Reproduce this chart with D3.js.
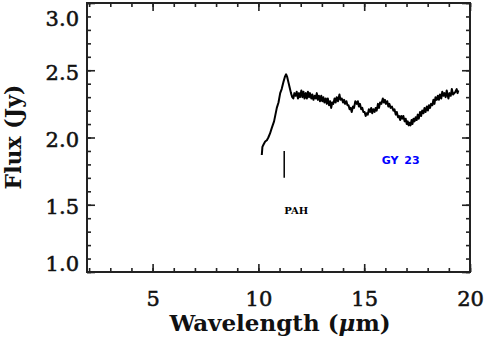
<!DOCTYPE html>
<html>
<head>
<meta charset="utf-8">
<script src="https://cdn.jsdelivr.net/npm/d3@7"></script>
<style>
  body { margin: 0; background: #fff; }
  svg { display: block; }
  .axis path, .axis line { stroke: #222; }
  .axis text { font-family: "DejaVu Serif", serif; fill: #111; stroke: #111; stroke-width: 0.55; }
</style>
</head>
<body>
<svg id="chart" width="484" height="342"></svg>
<script>
// spectrum
const wavelength = [10.16,10.19,10.25,10.32,10.40,10.47,10.55,10.63,10.74,10.87,10.95,11.03,11.10,11.18,11.25,11.31,11.36,11.42,11.48,11.54,
  11.60,11.65,11.70,11.76,11.81,11.87,11.92,11.97,12.03,12.08,12.13,12.18,12.24,12.29,12.34,12.39,12.44,12.50,12.55,12.60,
  12.66,12.71,12.76,12.81,12.86,12.91,12.97,13.02,13.07,13.12,13.18,13.23,13.28,13.34,13.39,13.44,13.49,13.54,13.60,13.65,
  13.70,13.76,13.83,13.88,13.94,14.00,14.05,14.10,14.16,14.21,14.26,14.31,14.36,14.41,14.47,14.52,14.58,14.65,14.70,14.75,
  14.80,14.86,14.91,14.96,15.02,15.07,15.12,15.17,15.22,15.28,15.33,15.38,15.43,15.49,15.54,15.59,15.65,15.70,15.75,15.81,
  15.88,15.93,15.98,16.03,16.09,16.14,16.19,16.25,16.31,16.38,16.43,16.49,16.54,16.60,16.65,16.70,16.75,16.80,16.85,16.91,
  16.96,17.01,17.06,17.10,17.14,17.19,17.24,17.28,17.33,17.38,17.43,17.48,17.53,17.58,17.64,17.69,17.74,17.80,17.85,17.90,
  17.96,18.01,18.06,18.11,18.16,18.22,18.27,18.32,18.37,18.43,18.48,18.53,18.58,18.64,18.69,18.74,18.79,18.85,18.90,18.95,
  18.98,19.03,19.09,19.14,19.20,19.26,19.31,19.37,19.41,19.45];
const flux = [1.87,1.93,1.95,1.97,1.98,2.00,2.03,2.07,2.12,2.22,2.26,2.33,2.36,2.41,2.45,2.47,2.45,2.41,2.37,2.33,
  2.30,2.29,2.33,2.31,2.34,2.29,2.33,2.30,2.35,2.30,2.34,2.29,2.33,2.29,2.34,2.30,2.33,2.29,2.32,2.28,
  2.31,2.29,2.33,2.28,2.31,2.27,2.31,2.27,2.30,2.26,2.29,2.25,2.29,2.24,2.27,2.22,2.26,2.25,2.29,2.26,
  2.30,2.27,2.32,2.28,2.29,2.26,2.28,2.25,2.27,2.24,2.24,2.21,2.22,2.19,2.23,2.22,2.27,2.25,2.27,2.23,
  2.25,2.21,2.22,2.19,2.19,2.16,2.18,2.17,2.21,2.19,2.22,2.18,2.21,2.19,2.22,2.20,2.25,2.22,2.26,2.25,
  2.29,2.26,2.28,2.25,2.27,2.23,2.25,2.22,2.23,2.20,2.21,2.17,2.19,2.15,2.16,2.13,2.16,2.14,2.16,2.12,
  2.14,2.10,2.12,2.09,2.11,2.09,2.13,2.10,2.14,2.12,2.15,2.13,2.17,2.14,2.19,2.16,2.20,2.18,2.22,2.19,
  2.23,2.20,2.24,2.22,2.25,2.24,2.28,2.25,2.30,2.28,2.31,2.28,2.32,2.29,2.34,2.31,2.33,2.30,2.35,2.31,
  2.29,2.33,2.31,2.36,2.32,2.33,2.34,2.36,2.33,2.35];

const xTicks = [5, 10, 15, 20];
const yTicks = [1.0, 1.5, 2.0, 2.5, 3.0];
const xMinor = d3.range(2, 21, 1);
const yMinor = d3.range(1.0, 3.01, 0.1);

const pahLine = {wl: 11.22, from: 1.70, to: 1.90};
const pahLabel = {wl: 11.22, flux: 1.43, text: "PAH"};
const objLabel = {wl: 15.83, flux: 1.80, text: "GY 23"};

const width = 484, height = 342;
const margin = {top: 3, right: 14, bottom: 70, left: 87};

const svg = d3.select("#chart");

const x = d3.scaleLinear().domain([1.9, 20]).range([margin.left, width - margin.right]);
const y = d3.scaleLinear().domain([1, 3]).range([height - margin.bottom, margin.top]);

// minor ticks on all four sides
function minor(axis, sel) {
    sel.call(axis).call(g => g.select(".domain").remove());
}
minor(d3.axisBottom(x).tickValues(xMinor).tickSize(-4).tickFormat(""),
    svg.append("g").attr("class", "axis").attr("transform", `translate(0,${y(1)})`));
minor(d3.axisTop(x).tickValues(xMinor).tickSize(-4).tickFormat(""),
    svg.append("g").attr("class", "axis").attr("transform", `translate(0,${y(3)})`));
minor(d3.axisLeft(y).tickValues(yMinor).tickSize(-4).tickFormat(""),
    svg.append("g").attr("class", "axis").attr("transform", `translate(${x(1.9)},0)`));
minor(d3.axisRight(y).tickValues(yMinor).tickSize(-4).tickFormat(""),
    svg.append("g").attr("class", "axis").attr("transform", `translate(${x(20)},0)`));

// major ticks + labels
const xAxis = svg.append("g").attr("class", "axis")
    .attr("transform", `translate(0,${y(1)})`)
    .call(d3.axisBottom(x).tickValues(xTicks).tickSize(-8).tickPadding(19).tickFormat(d3.format("d")));
xAxis.select(".domain").remove();
xAxis.selectAll("text").attr("font-size", 21);

const yAxis = svg.append("g").attr("class", "axis")
    .attr("transform", `translate(${x(1.9)},0)`)
    .call(d3.axisLeft(y).tickValues(yTicks).tickSize(-8).tickPadding(8).tickFormat(d3.format(".1f")));
yAxis.select(".domain").remove();
yAxis.selectAll("text").attr("font-size", 21)
    .attr("dy", d => d === 3 ? "1.05em" : d === 1 ? "-0.05em" : "0.42em");

svg.append("g").attr("class", "axis")
    .attr("transform", `translate(0,${y(3)})`)
    .call(d3.axisTop(x).tickValues(xTicks).tickSize(-8).tickFormat(""))
    .call(g => g.select(".domain").remove());
svg.append("g").attr("class", "axis")
    .attr("transform", `translate(${x(20)},0)`)
    .call(d3.axisRight(y).tickValues(yTicks).tickSize(-8).tickFormat(""))
    .call(g => g.select(".domain").remove());
svg.selectAll(".axis line").attr("stroke-width", 1.6);

// frame
svg.append("rect")
    .attr("x", x(1.9)).attr("y", y(3))
    .attr("width", x(20) - x(1.9)).attr("height", y(1) - y(3))
    .attr("fill", "none").attr("stroke", "#222").attr("stroke-width", 2);

// spectrum
const pts = wavelength.map((w, i) => [w, flux[i]]);
svg.append("path")
    .datum(pts)
    .attr("fill", "none")
    .attr("stroke", "#000")
    .attr("stroke-width", 2)
    .attr("stroke-linejoin", "round")
    .attr("d", d3.line().x(d => x(d[0])).y(d => y(d[1])));

// PAH marker
svg.append("line")
    .attr("x1", x(pahLine.wl)).attr("x2", x(pahLine.wl))
    .attr("y1", y(pahLine.from)).attr("y2", y(pahLine.to))
    .attr("stroke", "#000").attr("stroke-width", 1.5);

svg.append("text")
    .attr("x", x(pahLabel.wl)).attr("y", y(pahLabel.flux))
    .attr("font-family", "DejaVu Serif, serif").attr("font-weight", "bold")
    .attr("font-size", 10).attr("fill", "#000")
    .text(pahLabel.text);

svg.append("text")
    .attr("x", x(objLabel.wl)).attr("y", y(objLabel.flux))
    .attr("font-family", "DejaVu Sans, sans-serif").attr("font-weight", "bold")
    .attr("font-size", 11).attr("fill", "#0000ff")
    .attr("word-spacing", 2)
    .text(objLabel.text);

// axis titles
svg.append("text")
    .attr("x", 280).attr("y", 331)
    .attr("text-anchor", "middle")
    .attr("font-family", "DejaVu Serif, serif").attr("font-weight", "bold")
    .attr("font-size", 23).attr("fill", "#111")
    .html('Wavelength (<tspan font-style="italic">μ</tspan>m)');

svg.append("text")
    .attr("transform", "translate(21,137) rotate(-90)")
    .attr("text-anchor", "middle")
    .attr("font-family", "DejaVu Serif, serif").attr("font-weight", "bold")
    .attr("font-size", 22).attr("fill", "#111")
    .text("Flux (Jy)");
</script>
</body>
</html>
